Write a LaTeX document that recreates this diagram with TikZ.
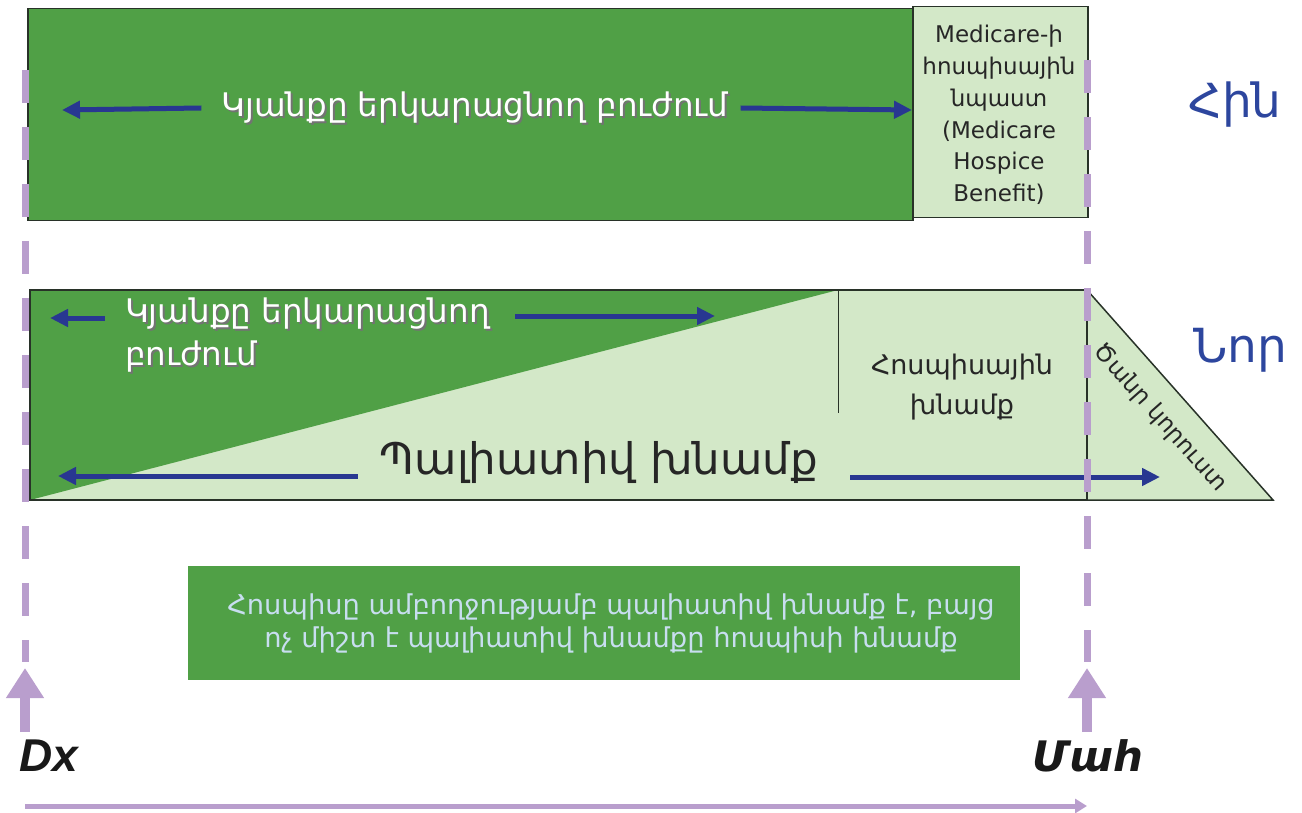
\documentclass[tikz,border=0pt]{standalone}
\usepackage{fontspec}
\setmainfont{DejaVu Sans}
\newfontfamily\lat{Liberation Sans}
\usetikzlibrary{arrows.meta}
\definecolor{dg}{RGB}{80,160,70}
\definecolor{lg}{RGB}{211,232,200}
\definecolor{navy}{RGB}{40,55,145}
\definecolor{lav}{RGB}{185,158,205}
\definecolor{blu}{RGB}{45,70,158}
\definecolor{pale}{RGB}{200,222,240}
\definecolor{edge}{RGB}{40,50,40}
\tikzset{
  navyarrow/.style={draw=navy,line width=5pt,-{Triangle[length=18pt,width=17pt]}},
  whitetxt/.style={text=white,font=\fontsize{32.5}{43}\selectfont,inner sep=0pt},
  shadowtxt/.style={text=black!55,font=\fontsize{32.5}{43}\selectfont,inner sep=0pt},
  darktxt/.style={text=black!85,inner sep=0pt},
  tag/.style={text=blu,font=\fontsize{47}{50}\selectfont,inner sep=0pt},
  lavdash/.style={draw=lav,line width=7pt,dash pattern=on 33pt off 24pt},
  lavup/.style={draw=lav,line width=10pt,-{Triangle[length=30pt,width=36pt]}},
  border/.style={draw=edge,line width=1.5pt}
}
\begin{document}
\begin{tikzpicture}[x=1pt,y=-1pt]
\useasboundingbox (0,0) rectangle (1302,813);
% top row
\node[border,fill=dg,minimum width=885pt,minimum height=212pt,anchor=north west,inner sep=0pt] (oldlp) at (27,8) {};
\node[border,fill=lg,minimum width=175pt,minimum height=211pt,anchor=north west,inner sep=0pt] (oldhb) at (912,6) {};
\node[darktxt,align=center,font=\fontsize{23}{31.8}\selectfont] (oldhbtxt) at (999,115) {Medicare-ի\\հոսպիսային\\նպաստ\\(Medicare\\Hospice\\Benefit)};
\node[shadowtxt] at (477,110) {Կյանքը երկարացնող բուժում};
\node[whitetxt] (oldtxt) at (475,108) {Կյանքը երկարացնող բուժում};
\coordinate (oldL) at (62,110);
\draw[navyarrow] (oldtxt.west) ++(-20pt,0) -- (oldL);
\draw[navyarrow] (oldtxt.east) ++(12pt,0) -- (oldhb.west |- oldL);
\node[tag] (hin) at (1235,105) {Հին};
% bottom row
\coordinate (bTL) at (30,290);
\coordinate (bTM) at (838,290);
\coordinate (bTR) at (1087,290);
\coordinate (bBL) at (30,500);
\coordinate (bBM) at (838,500);
\coordinate (bBR) at (1087,500);
\coordinate (bTip) at (1273,500);
\fill[lg] (bTL) rectangle (bBR);
\fill[dg] (bTL) -- (bTM) -- (bBL) -- cycle;
\draw[border,fill=lg] (bTR) -- (bTip) -- (bBR) -- cycle;
\draw[border] (bTL) rectangle (bBR);
\draw[draw=edge,line width=1pt] (bTM) -- (838,413);
\draw[draw=edge,line width=1.5pt] (bBM) -- (bBR);
\node[shadowtxt,align=left,anchor=north west] at (127,300) {Կյանքը երկարացնող\\բուժում};
\node[whitetxt,align=left,anchor=north west] (newtxt) at (125,298) {Կյանքը երկարացնող\\բուժում};
\coordinate (newL) at (50,318);
\coordinate (newR) at (715,316);
\draw[navyarrow] (105,318) -- (newL);
\draw[navyarrow] (515,316) -- (newR);
\node[darktxt,font=\fontsize{43.5}{46}\selectfont] (pal) at (599,462) {Պալիատիվ խնամք};
\coordinate (palL) at (58,476);
\coordinate (palR) at (1160,477);
\draw[navyarrow] (pal.west |- palL) ++(-22pt,0) -- (palL);
\draw[navyarrow] (850,477) -- (palR);
\node[darktxt,align=center,font=\fontsize{27}{40}\selectfont] (hosp) at (962,387) {Հոսպիսային\\խնամք};
\node[darktxt,font=\fontsize{23.5}{26}\selectfont,rotate=-48.5] (grief) at (1160,418) {Ծանր կորուստ};
\node[tag] (nor) at (1240,350) {Նոր};
% bottom note
\node[fill=dg,minimum width=832pt,minimum height=114pt,anchor=north west,inner sep=0pt] (note) at (188,566) {};
\node[text=pale,align=center,font=\fontsize{27.3}{33}\selectfont,inner sep=0pt] (notetxt) at (611,623) {Հոսպիսը ամբողջությամբ պալիատիվ խնամք է, բայց\\ոչ միշտ է պալիատիվ խնամքը հոսպիսի խնամք};
% timeline
\coordinate (dxTop) at (25,70);
\coordinate (dxTip) at (25,668);
\coordinate (dxBase) at (25,732);
\coordinate (mhTop) at (1087,60);
\coordinate (mhTip) at (1087,668);
\coordinate (mhBase) at (1087,732);
\draw[lavdash] (dxTop) -- (25,662);
\draw[lavdash] (mhTop) -- (1087,662);
\draw[lavup] (dxBase) -- (dxTip);
\draw[lavup] (mhBase) -- (mhTip);
\node[inner sep=0pt,font=\lat\bfseries\itshape\fontsize{46}{50}\selectfont,text=black!90] (dx) at (49,756) {Dx};
\node[inner sep=0pt,font=\bfseries\itshape\fontsize{42}{50}\selectfont,text=black!90] (mah) at (1088,756) {Մահ};
\coordinate (tlL) at (25,806);
\coordinate (tlR) at (1087,806);
\draw[draw=lav,line width=5pt,-{Triangle[length=12pt,width=14pt]}] (tlL) -- (tlR);
\end{tikzpicture}
\end{document}
